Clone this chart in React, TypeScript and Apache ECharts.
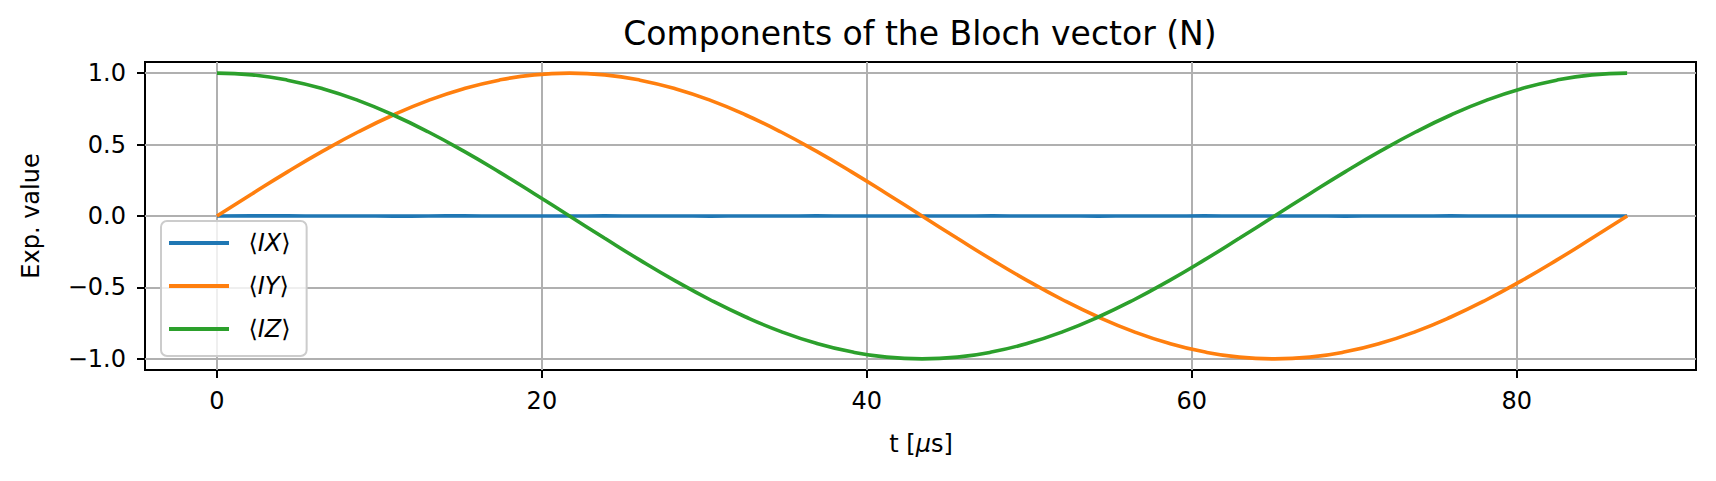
import React, { useEffect, useRef } from "react";
import * as echarts from "echarts";

const tValues = [
  0, 2.17, 4.34, 6.51, 8.68, 10.85, 13.02, 15.19, 17.36, 19.53, 21.7, 23.87, 26.04, 28.21,
  30.38, 32.55, 34.72, 36.89, 39.06, 41.23, 43.4, 45.57, 47.74, 49.91, 52.08, 54.25, 56.42,
  58.59, 60.76, 62.93, 65.1, 67.27, 69.44, 71.61, 73.78, 75.95, 78.12, 80.29, 82.46, 84.63,
  86.8,
];
const ixValues = [
  0.0, 0.001, 0.001, 0.0, 0.0, -0.001, 0.0, 0.001, 0.0, 0.0, 0.0, 0.001, 0.0, 0.0, -0.001,
  0.0, 0.0, 0.001, 0.0, 0.0, 0.0, 0.0, 0.001, 0.0, 0.0, -0.001, 0.0, 0.0, 0.001, 0.0, 0.0,
  0.0, -0.001, 0.0, 0.0, 0.001, 0.0, 0.0, 0.0, 0.0, 0.0,
];
const iyValues = [
  0.0, 0.156, 0.309, 0.454, 0.588, 0.707, 0.809, 0.891, 0.951, 0.988, 1.0, 0.988, 0.951,
  0.891, 0.809, 0.707, 0.588, 0.454, 0.309, 0.156, 0.0, -0.156, -0.309, -0.454, -0.588,
  -0.707, -0.809, -0.891, -0.951, -0.988, -1.0, -0.988, -0.951, -0.891, -0.809, -0.707,
  -0.588, -0.454, -0.309, -0.156, 0.0,
];
const izValues = [
  1.0, 0.988, 0.951, 0.891, 0.809, 0.707, 0.588, 0.454, 0.309, 0.156, 0.0, -0.156, -0.309,
  -0.454, -0.588, -0.707, -0.809, -0.891, -0.951, -0.988, -1.0, -0.988, -0.951, -0.891,
  -0.809, -0.707, -0.588, -0.454, -0.309, -0.156, 0.0, 0.156, 0.309, 0.454, 0.588, 0.707,
  0.809, 0.891, 0.951, 0.988, 1.0,
];
const seriesNames = ["⟨IX⟩", "⟨IY⟩", "⟨IZ⟩"];
const seriesColors = ["#1f77b4", "#ff7f0e", "#2ca02c"];
const xTicks = [0, 20, 40, 60, 80];
const yTicks = [-1.0, -0.5, 0.0, 0.5, 1.0];
const titleText = "Components of the Bloch vector (N)";
const yLabelText = "Exp. value";

const FONT = "'DejaVu Sans', 'Noto Sans', sans-serif";

function pairs(ys: number[]) {
  return tValues.map((t, i) => [t, ys[i]]);
}

function fmtY(v: number) {
  return v < 0 ? "\u2212" + Math.abs(v).toFixed(1) : v.toFixed(1);
}

export default function App() {
  const ref = useRef<HTMLDivElement>(null);
  useEffect(() => {
    document.body.style.margin = "0";
    const chart = echarts.init(ref.current!, null, { renderer: "svg" });
    const gridColor = "#b0b0b0";
    const option: any = {
      animation: false,
      backgroundColor: "#ffffff",
      grid: {
        left: 145,
        right: 20,
        top: 62,
        bottom: 111,
        show: true,
        borderColor: "#000000",
        borderWidth: 2,
        backgroundColor: "#ffffff",
      },
      xAxis: {
        type: "value",
        min: -4.43,
        max: 91.04,
        axisLine: { show: true, onZero: false, lineStyle: { color: "#000", width: 2 } },
        axisTick: {
          show: true,
          customValues: xTicks,
          length: 8,
          lineStyle: { color: "#000", width: 2 },
        },
        axisLabel: {
          show: true,
          customValues: xTicks,
          margin: 19,
          color: "#000",
          fontSize: 24,
          fontFamily: FONT,
          formatter: (v: number) => String(Math.round(v)),
        },
        splitLine: { show: false },
      },
      yAxis: {
        type: "value",
        min: -1.078,
        max: 1.078,
        axisLine: { show: true, onZero: false, lineStyle: { color: "#000", width: 2 } },
        axisTick: {
          show: true,
          customValues: yTicks,
          length: 8,
          lineStyle: { color: "#000", width: 2 },
        },
        axisLabel: {
          show: true,
          customValues: yTicks,
          margin: 19,
          color: "#000",
          fontSize: 24,
          fontFamily: FONT,
          formatter: (v: number) => fmtY(v),
        },
        splitLine: { show: false },
      },
      legend: {
        orient: "vertical",
        left: 161,
        top: 221,
        z: 10,
        data: seriesNames,
        icon: "rect",
        itemWidth: 60,
        itemHeight: 4,
        itemGap: 15,
        padding: [8, 16, 13, 8],
        backgroundColor: "rgba(255,255,255,0.8)",
        borderColor: "#cccccc",
        borderWidth: 2,
        borderRadius: 6,
        formatter: (name: string) => "\u2002\u200A⟨{i|" + name.slice(1, -1) + "}⟩",
        textStyle: {
          fontSize: 24,
          fontFamily: FONT,
          color: "#000",
          lineHeight: 28,
          rich: {
            i: { fontSize: 24, fontFamily: FONT, fontStyle: "italic", color: "#000", lineHeight: 28 },
          },
        },
      },
      graphic: [
        {
          type: "text",
          x: 920,
          y: 33,
          silent: true,
          style: {
            text: titleText,
            fill: "#000",
            font: `33px ${FONT}`,
            textAlign: "center",
            textVerticalAlign: "middle",
          },
        },
        {
          type: "text",
          x: 921,
          y: 444,
          silent: true,
          style: {
            text: "t [{i|μ}s]",
            fill: "#000",
            font: `24px ${FONT}`,
            textAlign: "center",
            textVerticalAlign: "middle",
            rich: {
              i: { fontStyle: "italic", fontSize: 24, fontFamily: FONT, fill: "#000" },
            },
          },
        },
        {
          type: "text",
          x: 31,
          y: 216,
          rotation: Math.PI / 2,
          silent: true,
          style: {
            text: yLabelText,
            fill: "#000",
            font: `24px ${FONT}`,
            textAlign: "center",
            textVerticalAlign: "middle",
          },
        },
      ],
      series: [
        {
          type: "line",
          name: "__grid",
          data: [],
          silent: true,
          z: 1,
          markLine: {
            silent: true,
            z: 1,
            symbol: ["none", "none"],
            label: { show: false },
            animation: false,
            lineStyle: { color: gridColor, width: 2, type: "solid" },
            emphasis: { disabled: true },
            data: [
              ...xTicks.map((v) => ({ xAxis: v })),
              ...yTicks.map((v) => ({ yAxis: v })),
            ],
          },
        },
        ...[ixValues, iyValues, izValues].map((vals, i) => ({
          type: "line",
          name: seriesNames[i],
          data: pairs(vals),
          showSymbol: false,
          symbol: "none",
          smooth: 0.5,
          z: 3,
          color: seriesColors[i],
          lineStyle: { color: seriesColors[i], width: 3.6 },
          emphasis: { disabled: true },
        })),
      ],
    };
    chart.setOption(option);
    return () => chart.dispose();
  }, []);
  return (
    <div
      ref={ref}
      style={{ position: "fixed", left: 0, top: 0, width: 1716, height: 481 }}
    />
  );
}
